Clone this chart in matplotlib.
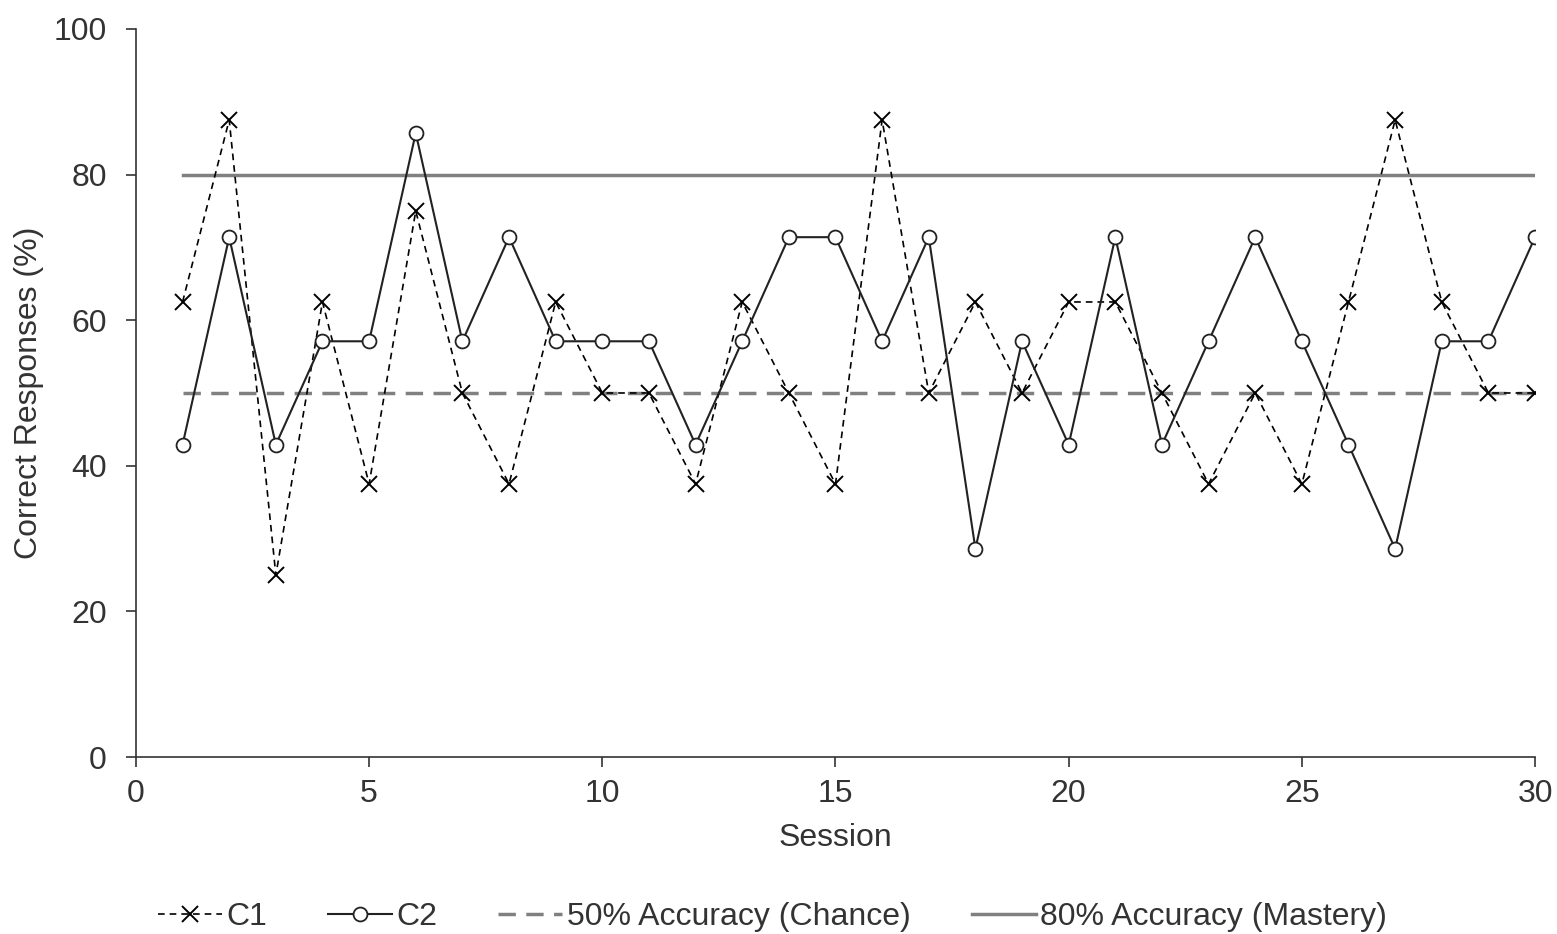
import matplotlib
matplotlib.use("Agg")
import matplotlib.pyplot as plt

plt.rcParams.update({
    "font.family": ["Liberation Sans", "DejaVu Sans"],
    "font.size": 23,
    "text.color": "#333333",
    "axes.labelcolor": "#333333",
    "axes.spines.top": False,
    "axes.spines.right": False,
})

sessions = list(range(1, 31))
c1 = [62.5, 87.5, 25, 62.5, 37.5, 75, 50, 37.5, 62.5, 50,
      50, 37.5, 62.5, 50, 37.5, 87.5, 50, 62.5, 50, 62.5,
      62.5, 50, 37.5, 50, 37.5, 62.5, 87.5, 62.5, 50, 50]
c2 = [42.9, 71.4, 42.9, 57.1, 57.1, 85.7, 57.1, 71.4, 57.1, 57.1,
      57.1, 42.9, 57.1, 71.4, 71.4, 57.1, 71.4, 28.6, 57.1, 42.9,
      71.4, 42.9, 57.1, 71.4, 57.1, 42.9, 28.6, 57.1, 57.1, 71.4]
chance = 50
mastery = 80

fig = plt.figure(figsize=(15.57, 9.34), dpi=100)
ax = fig.add_axes([0.0873, 0.1895, 0.8986, 0.7795])

ax.plot(sessions, c1, color="black", linestyle=(0, (4, 3)), linewidth=1.2,
        marker="x", markersize=11, markeredgewidth=1.4, label="C1", zorder=3)
ax.plot(sessions, c2, color="#222222", linestyle="-", linewidth=1.5,
        marker="o", markersize=10, markerfacecolor="white",
        markeredgecolor="#222222", markeredgewidth=1.3, label="C2", zorder=4)
ax.plot([1, 30], [chance, chance], color="#808080", linestyle=(0, (5, 3)),
        linewidth=2.5, label="50% Accuracy (Chance)", zorder=2)
ax.plot([1, 30], [mastery, mastery], color="#808080", linestyle="-",
        linewidth=2.5, label="80% Accuracy (Mastery)", zorder=2)

ax.set_xlim(0, 30)
ax.set_ylim(0, 100)
ax.set_xticks(range(0, 31, 5))
ax.set_yticks(range(0, 101, 20))
ax.tick_params(direction="out", length=7, width=1.2, color="#333333",
               labelcolor="#333333")
ax.tick_params(axis="y", pad=14)
ax.tick_params(axis="x", pad=9)
for s in ("left", "bottom"):
    ax.spines[s].set_linewidth(1.2)
    ax.spines[s].set_color("#333333")

ax.set_xlabel("Session", labelpad=10)
ax.set_ylabel("Correct Responses (%)", labelpad=7)

ax.legend(loc="upper center", bbox_to_anchor=(0.455, -0.16), ncol=4,
          frameon=False, handlelength=2.0, handletextpad=0.15,
          columnspacing=1.9)

fig.savefig("out.png", dpi=100)
